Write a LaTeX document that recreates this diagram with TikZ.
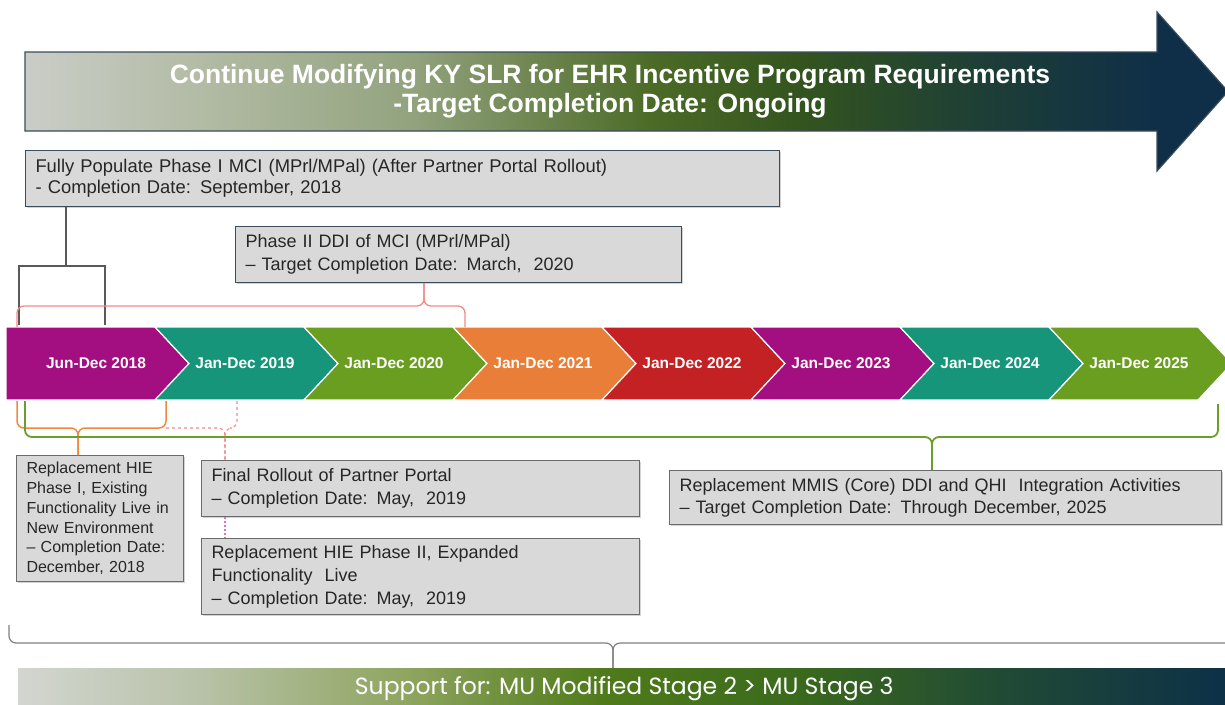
\documentclass[tikz,border=0pt]{standalone}
\usepackage{fontspec}
\setmainfont{Liberation Sans}
\newfontfamily\barfont{Poppins}
\usetikzlibrary{shadows}

\definecolor{magseg}{HTML}{A30F80}
\definecolor{tealseg}{HTML}{16957B}
\definecolor{greenseg}{HTML}{6A9E20}
\definecolor{orangeseg}{HTML}{E87E38}
\definecolor{redseg}{HTML}{C32124}
\definecolor{boxfill}{HTML}{D9D9D9}
\definecolor{boxedge}{HTML}{6B6B6B}
\definecolor{blueedge}{HTML}{3B4C5C}
\definecolor{pinkbrace}{HTML}{F48888}
\definecolor{orangebrace}{HTML}{F0883F}
\definecolor{greenbrace}{HTML}{6B9E2A}
\definecolor{dotpink}{HTML}{E070C0}
\definecolor{graybrace}{HTML}{808080}
% gradient stops
\definecolor{gA}{HTML}{CACDC7}
\definecolor{gB}{HTML}{B3BCA6}
\definecolor{gC}{HTML}{93A37E}
\definecolor{gD}{HTML}{4C6B27}
\definecolor{gE}{HTML}{34551E}
\definecolor{gF}{HTML}{1D3E36}
\definecolor{gG}{HTML}{0F2F48}
\definecolor{bA}{HTML}{D3D6D0}
\definecolor{bB}{HTML}{B8C2A8}
\definecolor{bC}{HTML}{8FA560}
\definecolor{bD}{HTML}{507B1B}
\definecolor{bE}{HTML}{3A6A1C}
\definecolor{bF}{HTML}{214A35}
\definecolor{bG}{HTML}{0C3048}

\pgfdeclarehorizontalshading{arrowgrad}{100bp}{color(0bp)=(gA); color(25bp)=(gA); color(32bp)=(gB);
  color(41bp)=(gC); color(51bp)=(gD); color(57bp)=(gE); color(65bp)=(gF); color(72bp)=(gG); color(100bp)=(gG)}
\pgfdeclarehorizontalshading{bargrad}{100bp}{color(0bp)=(bA); color(25bp)=(bA); color(32.5bp)=(bB);
  color(41bp)=(bC); color(49bp)=(bD); color(57bp)=(bE); color(65.5bp)=(bF); color(75bp)=(bG); color(100bp)=(bG)}

\tikzset{
  infobox/.style={draw=boxedge, fill=boxfill, line width=1pt, anchor=north west, align=left,
    inner xsep=10pt, inner ysep=0pt, text=black!85,
    drop shadow={shadow xshift=1.5pt, shadow yshift=-1.5pt, opacity=.35}},
  yearlab/.style={text=white, font=\bfseries\fontsize{15.5}{18}\selectfont},
  graybrk/.style={draw=black!65, line width=1.3pt},
  pinkbrk/.style={draw=pinkbrace, line width=1.3pt, rounded corners=7pt},
  orangebrk/.style={draw=orangebrace, line width=1.5pt, rounded corners=7pt},
  greenbrk/.style={draw=greenbrace, line width=1.8pt, rounded corners=7pt},
  dashbrk/.style={draw=pinkbrace, line width=1.1pt, dashed, rounded corners=7pt},
  supbrk/.style={draw=graybrace, line width=1.2pt, rounded corners=7pt}
}

\begin{document}
\begin{tikzpicture}[x=1pt, y=-1pt]
\useasboundingbox (0,0) rectangle (1225,704);

% big arrow on top
\shade[shading=arrowgrad, draw=blueedge, line width=1.2pt]
  (25,52) -- (1157,52) -- (1157,12) -- (1228,91.5) -- (1157,171) -- (1157,131) -- (25,131) -- cycle;
\node[text=white, align=center, font=\bfseries\fontsize{26.5}{29}\selectfont] (ttl) at (610,91.5)
  {Continue Modifying KY SLR for EHR Incentive Program Requirements\\-Target Completion Date: Ongoing};

% the boxes
\node[infobox, draw=blueedge, text width=734pt, minimum height=56pt, font=\fontsize{18.4}{21}\selectfont] (fp) at (25,150)
  {Fully Populate Phase I MCI (MPrl/MPal) (After Partner Portal Rollout)\\- Completion Date: September, 2018};
\node[infobox, draw=blueedge, text width=426pt, minimum height=56pt, font=\fontsize{18}{22.5}\selectfont] (p2) at (235,226)
  {Phase II DDI of MCI (MPrl/MPal)\\-- Target Completion Date: March,\ \ 2020};
\node[infobox, inner xsep=10pt, text width=147pt, minimum height=126pt, font=\fontsize{16}{19.8}\selectfont] (h1) at (16,455)
  {Replacement HIE\\Phase I, Existing\\Functionality Live in\\New Environment\\-- Completion Date:\\December, 2018};
\node[infobox, text width=418pt, minimum height=56pt, font=\fontsize{18}{23}\selectfont] (fr) at (201,460)
  {Final Rollout of Partner Portal\\-- Completion Date: May,\ \ 2019};
\node[infobox, text width=418pt, minimum height=76pt, font=\fontsize{18}{23}\selectfont] (h2) at (201,538)
  {Replacement HIE Phase II, Expanded\\Functionality\ \ Live\\-- Completion Date: May,\ \ 2019};
\node[infobox, text width=532pt, minimum height=54pt, font=\fontsize{18}{22}\selectfont] (mm) at (669,470)
  {Replacement MMIS (Core) DDI and QHI\ \ Integration Activities\\-- Target Completion Date: Through December, 2025};

% timeline
\foreach \col/\lab [count=\i] in {magseg/Jun-Dec 2018, tealseg/Jan-Dec 2019, greenseg/Jan-Dec 2020,
    orangeseg/Jan-Dec 2021, redseg/Jan-Dec 2022, magseg/Jan-Dec 2023, tealseg/Jan-Dec 2024, greenseg/Jan-Dec 2025}{
  \pgfmathsetmacro\xl{6+149*(\i-1)}
  \pgfmathsetmacro\xr{\xl+149}
  \pgfmathsetmacro\nt{\i==1 ? 0 : 34}
  \fill[\col, draw=white, line width=1.2pt] (\xl,327) -- (\xr,327) -- (\xr+34,363.5) -- (\xr,400)
    -- (\xl,400) -- (\xl+\nt,363.5) -- cycle;
  \node[yearlab] (yr\i) at (\xl+90,363.5) {\lab};
}

% brackets above the timeline
\coordinate (fpL) at (19,325); \coordinate (fpR) at (105,325); \coordinate (fpC) at (66,266);
\draw[graybrk] (fp.south -| fpC) -- (fpC);
\draw[graybrk] (fpL) |- (fpC) -| (fpR);
\coordinate (p2L) at (17,327); \coordinate (p2R) at (465,327); \coordinate (p2C) at (424,306);
\draw[pinkbrk] (p2L) |- (p2C) -- (p2C |- p2.south);
\draw[pinkbrk] (p2C |- p2.south) -- (p2C) -| (p2R);

% brackets below the timeline
\coordinate (frL) at (166,428); \coordinate (frR) at (237,401); \coordinate (frC) at (225,428);
\draw[dashbrk] (frL) -- (frC) -- (frC |- fr.north);
\draw[dashbrk] (frC |- fr.north) -- (frC) -| (frR);
\draw[dotpink, line width=1.1pt, dash pattern=on 2pt off 2pt] (fr.south -| frC) -- (h2.north -| frC);
\coordinate (h1L) at (17,401); \coordinate (h1R) at (166,401); \coordinate (h1C) at (78,428);
\draw[orangebrk] (h1L) |- (h1C) -- (h1C |- h1.north);
\draw[orangebrk] (h1C |- h1.north) -- (h1C) -| (h1R);
\coordinate (mmL) at (25,401); \coordinate (mmR) at (1218,404); \coordinate (mmC) at (932,437);
\draw[greenbrk] (mmL) |- (mmC) -- (mmC |- mm.north);
\draw[greenbrk] (mmC |- mm.north) -- (mmC) -| (mmR);

% support bar at the bottom
\node[shading=bargrad, anchor=north west, minimum width=1212pt, minimum height=40pt,
  inner sep=0pt, text=white, font=\barfont\fontsize{23.5}{25}\selectfont] (sup) at (18,668)
  {Support for: MU Modified Stage 2 > MU Stage 3};
\coordinate (supL) at (9,625); \coordinate (supR) at (1240,625); \coordinate (supC) at (613,643);
\draw[supbrk] (supL) |- (supC) -- (supC |- sup.north);
\draw[supbrk] (supC |- sup.north) -- (supC) -| (supR);
\end{tikzpicture}
\end{document}
